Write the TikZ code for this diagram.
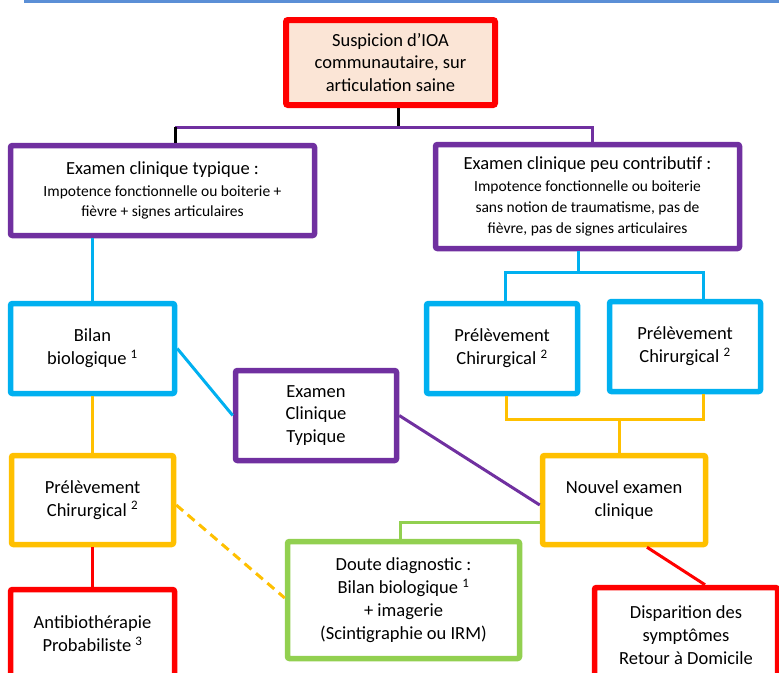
\documentclass[tikz,border=0pt]{standalone}
\usepackage{fontspec}
\setmainfont{Carlito}
\usetikzlibrary{calc}
\definecolor{cred}{HTML}{FF0000}
\definecolor{cpurple}{HTML}{7030A0}
\definecolor{cblue}{HTML}{00B0F0}
\definecolor{cyellow}{HTML}{FFC000}
\definecolor{cgreen}{HTML}{92D050}
\definecolor{cpeach}{HTML}{FBE5D6}
\definecolor{ctop}{HTML}{5B8FD6}
\newcommand{\subsz}{\fontsize{15.5}{19}\selectfont}
\tikzset{
  bx/.style={draw, rectangle, rounded corners=2pt, line width=5.5pt, fill=white,
    align=center, inner sep=0pt, font=\fontsize{18.5}{22.8}\selectfont},
  conn/.style={line width=3pt},
}
\begin{document}
\begin{tikzpicture}[x=1pt,y=-1pt]
\useasboundingbox (0,0) rectangle (779,672);
\clip (0,0) rectangle (779,672);
\draw[ctop, line width=3pt] (24,1.5) -- (779,1.5);

% nodes
\node[bx, draw=cred, line width=6pt, fill=cpeach, minimum width=209, minimum height=85] (top) at (390.5,62.5)
  {Suspicion d’IOA\\communautaire, sur\\articulation saine};
\node[bx, draw=cpurple, minimum width=304, minimum height=90] (ecl) at (162.5,190.5)
  {Examen clinique typique :\\[-1pt]{\subsz Impotence fonctionnelle ou boiterie +}\\[-2pt]{\subsz fièvre + signes articulaires}};
\node[bx, draw=cpurple, minimum width=304, minimum height=104] (ecp) at (587.5,196.5)
  {Examen clinique peu contributif :\\[-1pt]{\subsz Impotence fonctionnelle ou boiterie}\\[-2pt]{\subsz sans notion de traumatisme, pas de}\\[-2pt]{\subsz fièvre, pas de signes articulaires}};
\node[bx, draw=cblue, minimum width=164, minimum height=90] (bil) at (92.5,348.5)
  {Bilan\\biologique \textsuperscript{1}};
\node[bx, draw=cblue, minimum width=151, minimum height=90] (pr1) at (502,348.5)
  {Prélèvement\\Chirurgical \textsuperscript{2}};
\node[bx, draw=cblue, minimum width=151, minimum height=90] (pr2) at (685,346.5)
  {Prélèvement\\Chirurgical \textsuperscript{2}};
\node[bx, draw=cpurple, minimum width=161, minimum height=90] (ect) at (316,415.5)
  {Examen\\Clinique\\Typique};
\node[bx, draw=cyellow, minimum width=162, minimum height=89] (prl) at (92.5,500)
  {Prélèvement\\Chirurgical \textsuperscript{2}};
\node[bx, draw=cyellow, minimum width=163, minimum height=89] (nouv) at (624,500)
  {Nouvel examen\\clinique};
\node[bx, draw=cgreen, minimum width=232, minimum height=117] (dou) at (403.5,600)
  {Doute diagnostic :\\Bilan biologique \textsuperscript{1}\\+ imagerie\\(Scintigraphie ou IRM)};
\node[bx, draw=cred, minimum width=164, minimum height=89] (ant) at (92.5,634)
  {Antibiothérapie\\Probabiliste \textsuperscript{3}};
\node[bx, draw=cred, minimum width=183, minimum height=95] (dis) at (686,635)
  {Disparition des\\symptômes\\Retour à Domicile};

% junction coordinates
\coordinate (j0) at (398,127);
\coordinate (jl) at (175,127);
\coordinate (jr) at (592,127);
\coordinate (b0) at (578,272);
\coordinate (b1) at (505,272);
\coordinate (b2) at (703,272);
\coordinate (y1) at (506,419);
\coordinate (y2) at (703,419);
\coordinate (y0) at (619,419);
\coordinate (g0) at (400,522);

% connectors
\draw[conn, black] (top.south -| j0) -- (j0);
\draw[conn, cpurple] (jl) -- (jr) -- (ecp.north -| jr);
\draw[conn, black] (jl) -- (ecl.north -| jl);
\draw[conn, cblue] (ecl.south -| bil.north) -- (bil.north);
\draw[conn, cblue] (ecp.south -| b0) -- (b0);
\draw[conn, cblue] (pr1.north -| b1) -- (b1) -- (b2) -- (pr2.north -| b2);
\draw[conn, cblue] (bil.east) -- (ect.west);
\draw[conn, cyellow] (bil.south) -- (prl.north);
\draw[conn, cyellow] (pr1.south -| y1) -- (y1) -- (y2) -- (pr2.south -| y2);
\draw[conn, cyellow] (y0) -- (nouv.north -| y0);
\draw[conn, cpurple] (ect.east) -- ($(nouv.west)+(0,5)$);
\draw[conn, cgreen] (dou.north -| g0) -- (g0) -- (nouv.west |- g0);
\draw[conn, cred] (prl.south) -- (ant.north);
\draw[conn, cred] ($(nouv.south)+(23,0)$) -- ($(dis.north)+(19,0)$);
\draw[conn, cyellow, dashed, dash pattern=on 9pt off 6pt] ($(prl.east)+(0,5)$) -- ($(dou.west)+(0,-2)$);
\end{tikzpicture}
\end{document}
